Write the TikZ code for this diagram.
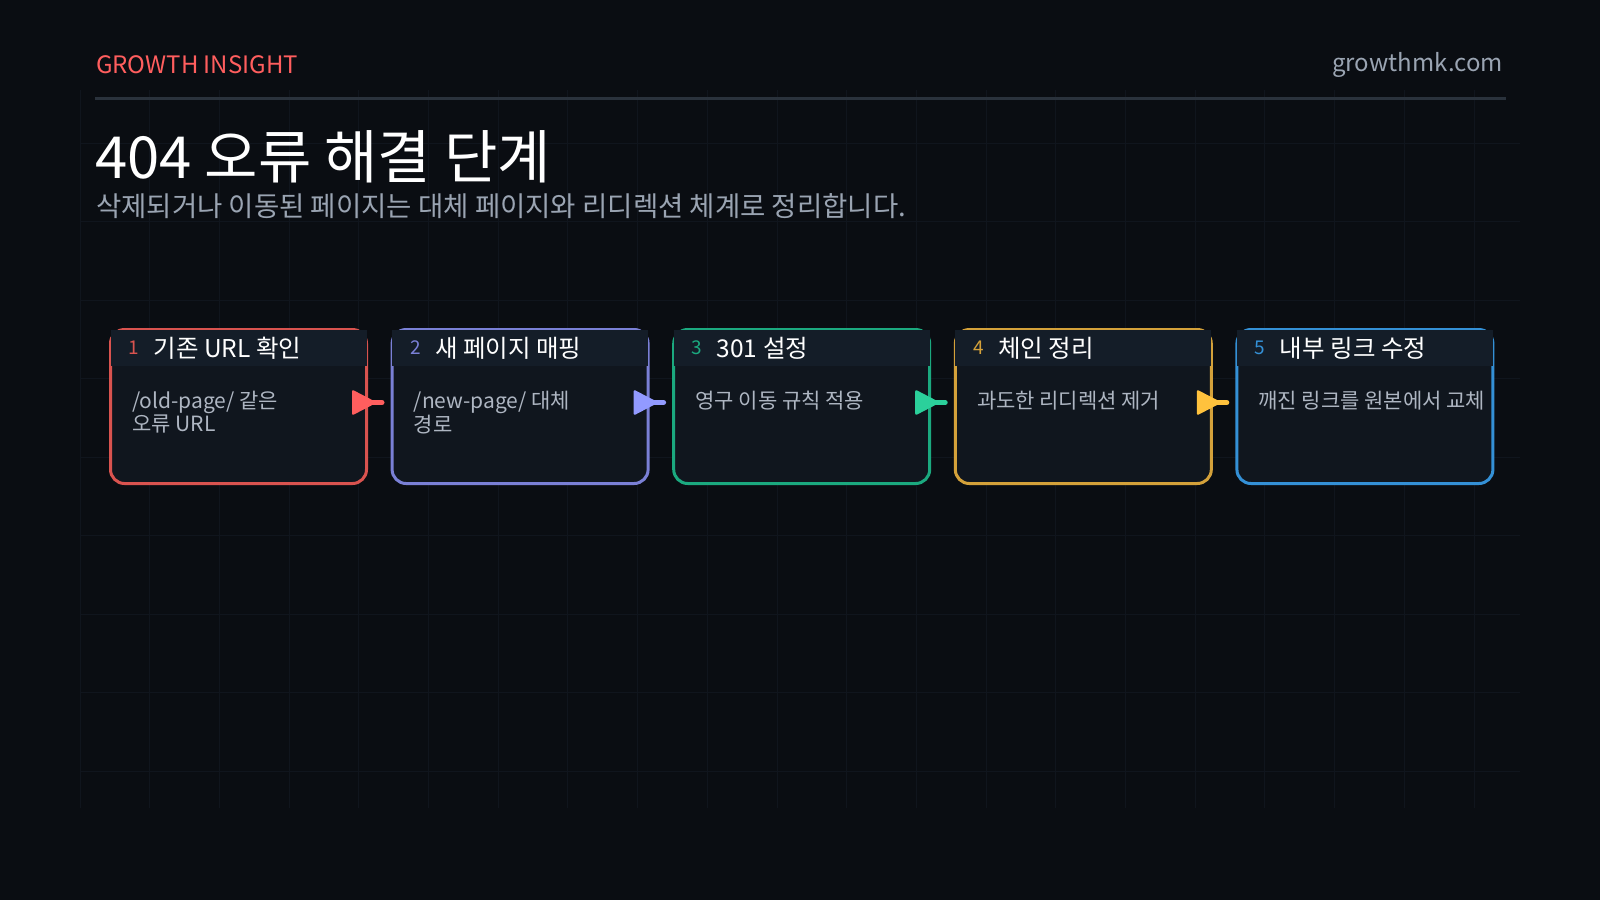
\documentclass[tikz,border=0pt]{standalone}
\usepackage{fontspec}
\setmainfont{Noto Sans CJK KR}
\usetikzlibrary{arrows.meta,calc}
\definecolor{bg}{HTML}{0A0D12}
\definecolor{gridc}{HTML}{10151D}
\definecolor{hdr}{HTML}{141D28}
\definecolor{bodyc}{HTML}{10161E}
\definecolor{sub}{HTML}{9AA4B2}
\definecolor{btxt}{HTML}{AEB6C2}
\definecolor{cA}{HTML}{D9534F}\definecolor{aA}{HTML}{FF5E5E}
\definecolor{cB}{HTML}{7A80D6}\definecolor{aB}{HTML}{929AFF}
\definecolor{cC}{HTML}{1BA97F}\definecolor{aC}{HTML}{2BD09B}
\definecolor{cD}{HTML}{D4A13A}\definecolor{aD}{HTML}{FFC23D}
\definecolor{cE}{HTML}{3490D6}\definecolor{aE}{HTML}{3AA2F0}
\tikzset{
 box/.style={draw=#1,line width=3pt,rounded corners=14pt,fill=bodyc,minimum width=256pt,minimum height=154pt,inner sep=0pt,anchor=north west},
 num/.style={text=#1,font=\fontsize{19}{22}\selectfont,anchor=west},
 ttl/.style={text=white,font=\fontsize{24.5}{26}\selectfont,anchor=west},
 body/.style={text=btxt,font=\fontsize{21}{20}\selectfont,anchor=north west,align=left,inner sep=0pt},
}
\begin{document}
\begin{tikzpicture}[x=1pt,y=-1pt]
\fill[bg] (0,0) rectangle (1600,900);
\useasboundingbox (0,0) rectangle (1600,900);
\foreach \i in {0,...,20} \draw[gridc,line width=1pt] (80+\i*69.7,90) -- (80+\i*69.7,808);
\foreach \j in {0,...,8} \draw[gridc,line width=1pt] (80,143+\j*78.5) -- (1520,143+\j*78.5);
\node[anchor=west,text=aA,font=\fontsize{24}{26}\selectfont,inner sep=0pt] (brand) at (96,65) {GROWTH INSIGHT};
\node[anchor=east,text=sub,font=\fontsize{24}{26}\selectfont,inner sep=0pt] (site) at (1503,65) {growthmk.com};
\draw[color={rgb,255:red,42;green,50;blue,60},line width=3pt] (95,98) -- (1506,98);
\node[anchor=west,text=white,font=\fontsize{58}{60}\selectfont,inner sep=0pt] (title) at (95,157) {404 오류 해결 단계};
\node[anchor=west,text=sub,font=\fontsize{27.5}{30}\selectfont,inner sep=0pt] (subt) at (96,206) {삭제되거나 이동된 페이지는 대체 페이지와 리디렉션 체계로 정리합니다.};
\foreach \k/\c/\n/\t/\b [count=\i from 0] in {
 A/cA/1/기존 URL 확인/{/old-page/ 같은\\오류 URL},
 B/cB/2/새 페이지 매핑/{/new-page/ 대체\\경로},
 C/cC/3/301 설정/{영구 이동 규칙 적용},
 D/cD/4/체인 정리/{과도한 리디렉션 제거},
 E/cE/5/내부 링크 수정/{깨진 링크를 원본에서 교체}}{
 \node[box=\c] (b\k) at (109+\i*281.6,328) {};
 \fill[hdr] ($(b\k.north west)+(1.5,1.5)$) rectangle ($(b\k.north east)+(-1.5,38)$);
 \node[num=\c] (n\k) at ($(b\k.north west)+(16,20)$) {\n};
 \node[ttl] (t\k) at ($(b\k.north west)+(41,20)$) {\t};
 \node[body] (d\k) at ($(b\k.north west)+(23,63)$) {\b};
}
\foreach \p/\q/\a in {A/B/aA,B/C/aB,C/D/aC,D/E/aD}{
 \fill[\a,rounded corners=2pt] ($(b\p.east)+(-16,-17)$) -- ($(b\p.east)+(9,-4)$) -- ($(b\p.east)+(-16,9)$) -- cycle;
 \draw[\a,line width=5pt,line cap=round] ($(b\p.east)+(0,-4)$) -- ($(b\p.east)+(14,-4)$);
}
\end{tikzpicture}
\end{document}
